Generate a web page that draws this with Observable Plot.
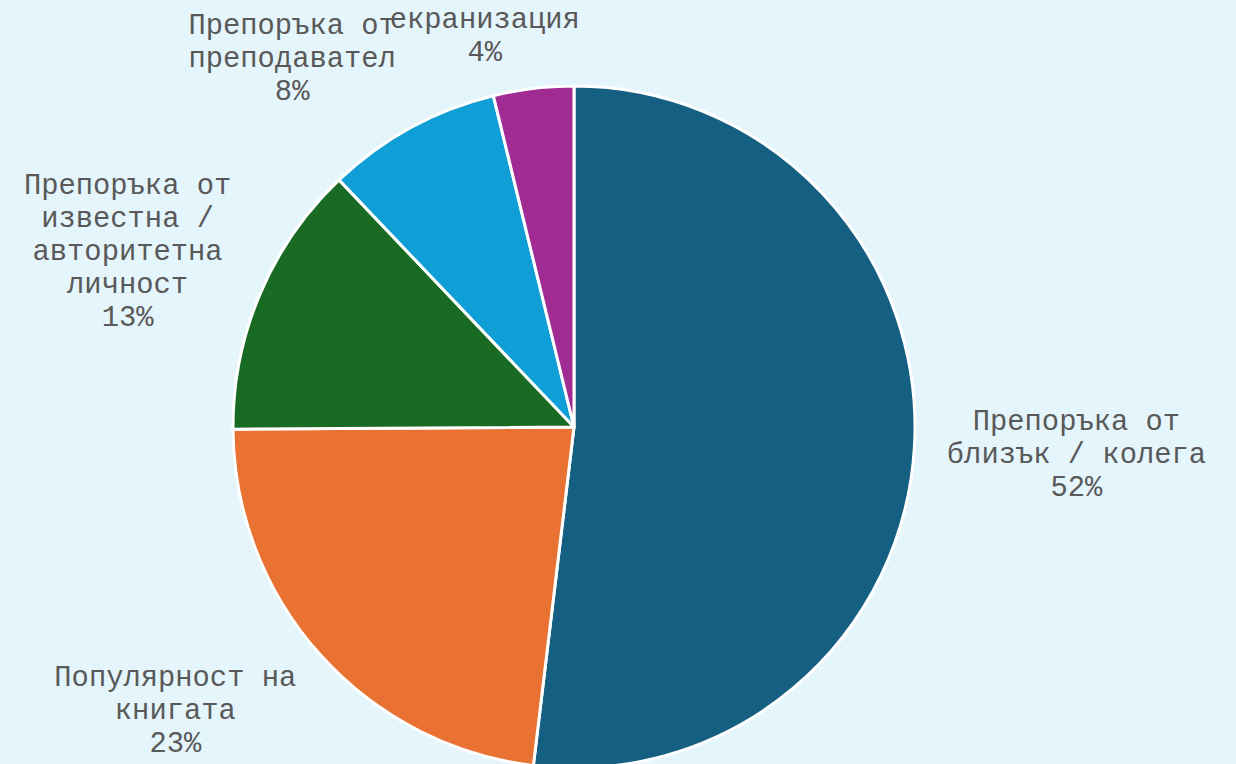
<!DOCTYPE html>
<html>
<head>
<meta charset="utf-8">
<script src="https://cdn.jsdelivr.net/npm/d3@7"></script>
<script src="https://cdn.jsdelivr.net/npm/@observablehq/plot@0.6"></script>
<style>
  html, body { margin: 0; padding: 0; background: #e4f5fc; }
  svg { display: block; }
</style>
</head>
<body>
<div id="chart"></div>
<script>
// ---- data ----
const categories = [
  "Препоръка от близък / колега",
  "Популярност на книгата",
  "Препоръка от известна / авторитетна личност",
  "Препоръка от преподавател",
  "екранизация"
];
const shares = [51.9, 23.0, 13.0, 8.3, 3.8];
const colors = ["#156082", "#e97132", "#196b24", "#0f9ed5", "#a02b93"];

// ---- layout ----
const W = 1236, H = 764;
const CX = 574, CY = 427, R = 341;   // pie centre & radius (px)
const GAP = 32;                      // label distance beyond rim
const FS = 28.8;                     // label font size
const LH = 33;                       // label line height (px)
const WRAP = 15;                     // max characters per label line

function wrap(s, max) {
  const words = s.split(" ");
  const lines = [];
  let cur = "";
  for (const w of words) {
    if (!cur) cur = w;
    else if ((cur + " " + w).length <= max) cur += " " + w;
    else { lines.push(cur); cur = w; }
  }
  if (cur) lines.push(cur);
  return lines;
}

const data = categories.map((c, i) => ({category: c, value: shares[i]}));
const arcs = d3.pie().sort(null).value(d => d.value)(data);
const total = d3.sum(shares);

const labels = arcs.map(a => {
  const lines = wrap(a.data.category, WRAP);
  lines.push(Math.round(a.data.value / total * 100) + "%");
  const w = 0.6 * FS * d3.max(lines, l => l.length);
  const h = lines.length * LH;
  const mid = (a.startAngle + a.endAngle) / 2;
  const ux = Math.sin(mid), uy = -Math.cos(mid);
  let sx = CX + (R + GAP) * ux + (w / 2) * Math.max(-1, Math.min(1, 4 * ux));
  let sy = CY + (R + GAP) * uy + (h / 2) * uy;
  sx = Math.max(w / 2, Math.min(W - w / 2, sx));
  sy = Math.max(h / 2, Math.min(H - h / 2, sy));
  return {text: lines.join("\n"), x: sx - CX, y: CY - sy};
});

const colorScale = d3.scaleOrdinal(categories, colors);

function pieMark(index, scales) {
  const x = scales.x, y = scales.y;
  const color = scales.color || colorScale;
  const r = x(R) - x(0);
  const arc = d3.arc().innerRadius(0).outerRadius(r);
  const g = d3.create("svg:g")
    .attr("transform", `translate(${x(0)},${y(0)})`);
  g.selectAll("path")
    .data(arcs)
    .join("path")
      .attr("d", arc)
      .attr("fill", d => color(d.data.category))
      .attr("stroke", "#ffffff")
      .attr("stroke-width", 3)
      .attr("stroke-linejoin", "round");
  return g.node();
}

const chart = Plot.plot({
  width: W,
  height: H,
  margin: 0,
  style: {background: "#e4f5fc", overflow: "visible"},
  x: {domain: [-CX, W - CX], axis: null},
  y: {domain: [-(H - CY), CY], axis: null},
  color: {domain: categories, range: colors},
  marks: [
    pieMark,
    Plot.text(labels, {
      x: "x",
      y: "y",
      text: "text",
      fontFamily: "'Liberation Mono', 'Courier New', monospace",
      fontSize: FS,
      lineHeight: LH / FS,
      fill: "#595959",
      textAnchor: "middle",
      lineAnchor: "middle"
    })
  ]
});
document.getElementById("chart").appendChild(chart);
</script>
</body>
</html>
